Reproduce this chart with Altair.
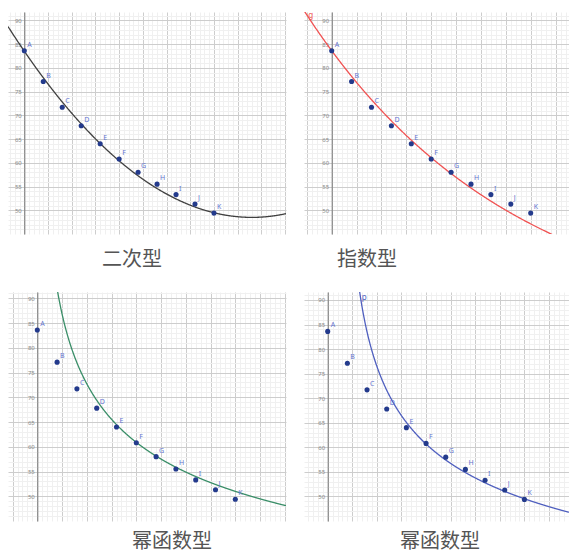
import altair as alt
import pandas as pd

# ---- data ----
LETTERS = ["A", "B", "C", "D", "E", "F", "G", "H", "I", "J", "K"]
TIMES = [0, 4, 8, 12, 16, 20, 24, 28, 32, 36, 40]
TEMPS = [83.6, 77.1, 71.7, 67.8, 64.0, 60.8, 58.0, 55.5, 53.3, 51.3, 49.4]
TITLES = ["二次型", "指数型", "幂函数型", "幂函数型"]

Y_MAJOR = [50, 55, 60, 65, 70, 75, 80, 85, 90]
Y_MINOR = [v for v in range(45, 93) if v % 5]
X_MAJOR = list(range(-5, 60, 5))
X_MINOR = [v for v in range(-7, 60) if v % 5]

# fitted model coefficients
QA, QH, QK = 0.01519, 48.0, 48.5          # y = QA*(x-QH)^2 + QK
EC, EA, EK = 24.5, 59.1, -0.024           # y = EC + EA*exp(EK*x)
P1A, P1B = 131.1, -0.256                  # y = P1A * x^P1B
P2A, P2H, P2B = 127.1, 3.0, -0.261        # y = P2A * (x-P2H)^P2B

df = pd.DataFrame({"name": LETTERS, "t": TIMES, "temp": TEMPS})

MAJOR = "#cdcdcd"
MINOR = "#f0f0f0"
PT = "#233a8c"
LBL = "#6474cf"
FONT = "Noto Sans"
CJK = "Noto Sans CJK SC"

PANELS = [
    dict(xdom=[-3.44, 55.19], ydom=[45.0, 91.75], w=278, h=222, off=-16.3,
         color="#404040", seq=(-3.44, 55.3, 0.1),
         expr=f"{QA}*pow(datum.x-{QH},2)+{QK}", dx=94, toff=16, lab=None),
    dict(xdom=[-5.57, 47.70], ydom=[45.0, 91.75], w=265, h=222, off=-27.7,
         color="#f05252", seq=(-5.57, 47.8, 0.1),
         expr=f"{EC}+{EA}*exp({EK}*datum.x)", dx=33, toff=16,
         lab=("g", f"-log((91.0-{EC})/{EA})/{-EK}")),
    dict(xdom=[-5.92, 50.24], ydom=[45.0, 91.27], w=278, h=229, off=-29.3,
         color="#3a8e68", seq=(1.0, 50.3, 0.05),
         expr=f"{P1A}*pow(datum.x,{P1B})", dx=124, toff=11, lab=None),
    dict(xdom=[-4.82, 49.07], ydom=[45.0, 91.62], w=265, h=229, off=-23.7,
         color="#4f5fbf", seq=(3.1, 49.1, 0.05),
         expr=f"{P2A}*pow(datum.x-{P2H},{P2B})", dx=96, toff=11,
         lab=("p", f"{P2H}+pow(90.3/{P2A},1/{P2B})")),
]


def panel(i):
    c = PANELS[i]
    xs = alt.Scale(domain=c["xdom"], nice=False, zero=False)
    ys = alt.Scale(domain=c["ydom"], nice=False, zero=False)
    hidden = dict(labels=False, ticks=False, domain=False, title=None, grid=True)

    curve = alt.Chart(alt.sequence(c["seq"][0], c["seq"][1], c["seq"][2], as_="x")).transform_calculate(
        y=c["expr"]
    ).mark_line(color=c["color"], strokeWidth=1.3, clip=True).encode(
        x=alt.X("x:Q", scale=xs, axis=alt.Axis(orient="top", values=X_MAJOR, gridColor=MAJOR, **hidden)),
        y=alt.Y("y:Q", scale=ys, axis=alt.Axis(orient="right", values=Y_MINOR, gridColor=MINOR, **hidden)),
    )

    pts = alt.Chart(df).mark_circle(size=26, color=PT, opacity=1).encode(
        x=alt.X("t:Q", scale=xs, axis=alt.Axis(orient="bottom", values=X_MINOR, gridColor=MINOR, **hidden)),
        y=alt.Y("temp:Q", scale=ys, axis=alt.Axis(
            orient="left", values=Y_MAJOR, grid=True, gridColor=MAJOR, ticks=False,
            domain=True, domainColor="#777777", domainWidth=1, offset=c["off"],
            labels=True, labelFontSize=6, labelColor="#8a8a8a", labelFont=FONT,
            labelPadding=3, title=None)),
    )

    txt = alt.Chart(df).mark_text(align="left", baseline="bottom", dx=3, dy=-3,
                                  fontSize=7, color=LBL, font=FONT).encode(
        x=alt.X("t:Q", scale=xs, axis=None),
        y=alt.Y("temp:Q", scale=ys, axis=None),
        text="name:N",
    )

    layers = [curve, pts, txt]
    if c["lab"]:
        name, xexpr = c["lab"]
        lab = alt.Chart(pd.DataFrame({"name": [name]})).transform_calculate(
            x=xexpr
        ).transform_calculate(y=c["expr"]).mark_text(
            align="left", baseline="middle", dx=1, dy=0, fontSize=8, color=c["color"], font=FONT
        ).encode(
            x=alt.X("x:Q", scale=xs, axis=None),
            y=alt.Y("y:Q", scale=ys, axis=None),
            text="name:N",
        )
        layers.append(lab)

    return alt.layer(*layers).resolve_axis(x="independent", y="independent").properties(
        width=c["w"], height=c["h"],
        title=alt.TitleParams(TITLES[i], orient="bottom", anchor="start", frame="group",
                              dx=c["dx"], offset=c["toff"], fontSize=20, font=CJK,
                              fontWeight="normal", color="#555555"),
    )


row1 = alt.hconcat(panel(0), panel(1), spacing=18)
row2 = alt.hconcat(panel(2), panel(3), spacing=18)
chart = alt.vconcat(row1, row2, spacing=22).properties(
    padding={"left": 0, "top": 3, "right": 0, "bottom": 4}
).configure_view(stroke=None)

chart.save("out.html", embed_options={"renderer": "svg", "actions": False})
